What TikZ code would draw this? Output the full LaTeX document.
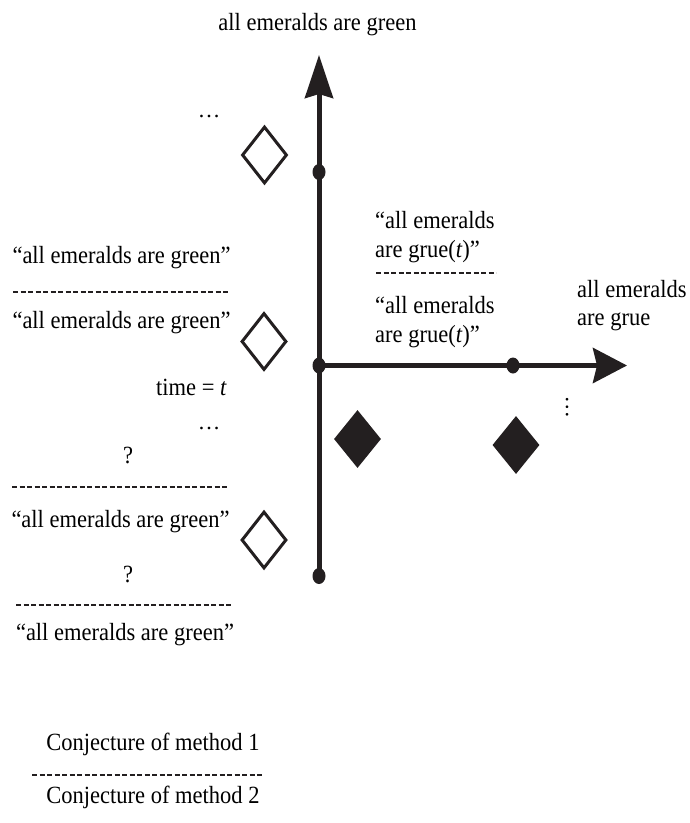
\documentclass[tikz,border=0pt]{standalone}
\usepackage{graphicx}
\usepackage{fontspec}
\setmainfont{Liberation Serif}
\usetikzlibrary{arrows.meta,shapes.geometric}
\definecolor{ink}{HTML}{231F20}
% Times-like text, set a little taller than its natural height
\newcommand{\tall}[1]{\scalebox{1}[1.1]{#1}}

\begin{document}
\begin{tikzpicture}[x=1pt,y=-1pt,
  lbl/.style={inner sep=0pt, font=\fontsize{22.5}{27}\selectfont},
  bar/.style={line width=1.8pt, draw=ink, dash pattern=on 5.4pt off 2.1pt},
  axis/.style={line width=5pt, draw=ink},
  dot/.style={ellipse, fill=ink, minimum width=13pt, minimum height=16pt, inner sep=0pt},
  opendiamond/.style={diamond, draw=ink, line width=3pt, minimum width=45pt, minimum height=57pt, inner sep=0pt},
  fulldiamond/.style={diamond, fill=ink, minimum width=47pt, minimum height=58pt, inner sep=0pt}]
\useasboundingbox (0,0) rectangle (689,823);

% axes
\coordinate (bottom) at (319,576);
\coordinate (origin) at (319,365.5);
\coordinate (top) at (319,55);
\coordinate (right) at (627,365.5);
\draw[axis, -{Stealth[length=43pt, width=28pt, inset=4pt]}] (bottom) -- (top);
\draw[axis, -{Stealth[length=34pt, width=35pt, inset=4pt]}] (origin) -- (right);

% points on the axes
\node[dot] (p0) at (bottom) {};
\node[dot] (p1) at (origin) {};
\node[dot] (p2) at (319,172) {};
\node[dot] (p3) at (513,365.5) {};

% conjectures of the two methods
\node[opendiamond] (o1) at (264.5,155) {};
\node[opendiamond] (o2) at (264,341.5) {};
\node[opendiamond] (o3) at (264,540) {};
\node[fulldiamond] (f1) at (357.5,439) {};
\node[fulldiamond] (f2) at (516,445) {};

% axis labels
\node[lbl, anchor=base] (ytitle) at (317.5,30) {\tall{all emeralds are green}};
\node[lbl, anchor=base west] (xtitle1) at (577,297) {\tall{all emeralds}};
\node[lbl, anchor=base west] (xtitle2) at (577,325) {\tall{are grue}};

% right-hand conjectures
\node[lbl, anchor=base west] (r1) at (375,228) {\tall{“all emeralds}};
\node[lbl, anchor=base west] (r2) at (375,257) {\tall{are grue(\textit{t})”}};
\draw[bar] (376,273) -- (496,273);
\node[lbl, anchor=base west] (r3) at (375,313) {\tall{“all emeralds}};
\node[lbl, anchor=base west] (r4) at (375,342) {\tall{are grue(\textit{t})”}};
\node[lbl, rotate=90] (vdots) at (567,407) {…};

% left-hand conjectures
\node[lbl, anchor=base] (topdots) at (209,117) {…};
\node[lbl, anchor=base] (l1) at (121.5,263) {\tall{“all emeralds are green”}};
\draw[bar] (13,292) -- (230,292);
\node[lbl, anchor=base] (l2) at (121.5,328) {\tall{“all emeralds are green”}};
\node[lbl, anchor=base east] (time) at (227,395) {\tall{time = \textit{t}}};
\node[lbl, anchor=base] (middots) at (209,429) {…};
\node[lbl, anchor=base] (q1) at (128,463) {\tall{?}};
\draw[bar] (12,487) -- (229,487);
\node[lbl, anchor=base] (l3) at (120.5,527) {\tall{“all emeralds are green”}};
\node[lbl, anchor=base] (q2) at (128,582) {\tall{?}};
\draw[bar] (16,605) -- (233,605);
\node[lbl, anchor=base] (l4) at (125,640) {\tall{“all emeralds are green”}};

% legend
\node[lbl, anchor=base] (m1) at (153,750) {\tall{Conjecture of method 1}};
\draw[bar] (32,775) -- (263,775);
\node[lbl, anchor=base] (m2) at (153,803) {\tall{Conjecture of method 2}};
\end{tikzpicture}
\end{document}
